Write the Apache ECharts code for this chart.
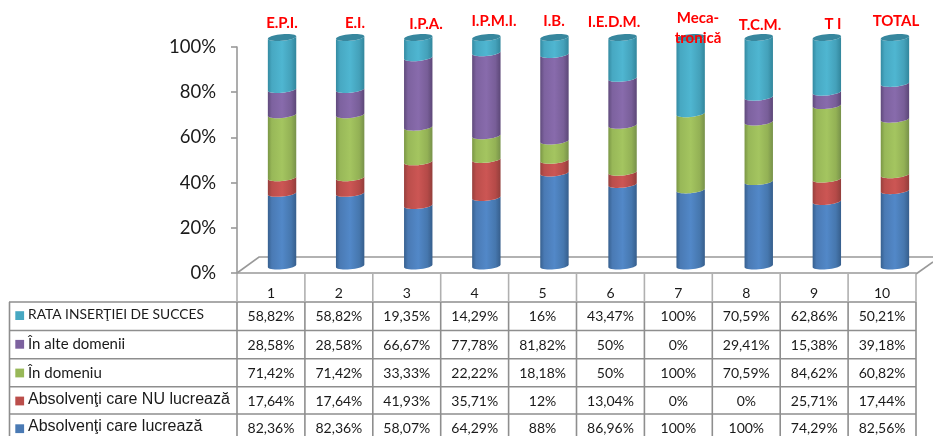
<!DOCTYPE html>
<html><head><meta charset="utf-8">
<style>html,body{margin:0;padding:0;background:#fff}#c{width:933px;height:436px}</style>
<script src="https://cdn.jsdelivr.net/npm/echarts@6/dist/echarts.min.js"></script>
</head><body><div id="c"></div>
<script>
const categories = ['1','2','3','4','5','6','7','8','9','10'];
const groups = ['E.P.I.','E.I.','I.P.A.','I.P.M.I.','I.B.','I.E.D.M.','Meca-','tronică','T.C.M.','T I','TOTAL'];
const seriesNames = ['Absolvenţi care lucrează','Absolvenţi care NU lucrează','În domeniu','În alte domenii','RATA INSERŢIEI DE SUCCES'];
const lucreaza = [82.36,82.36,58.07,64.29,88,86.96,100,100,74.29,82.56];
const nuLucreaza = [17.64,17.64,41.93,35.71,12,13.04,0,0,25.71,17.44];
const inDomeniu = [71.42,71.42,33.33,22.22,18.18,50,100,70.59,84.62,60.82];
const altele = [28.58,28.58,66.67,77.78,81.82,50,0,29.41,15.38,39.18];
const rata = [58.82,58.82,19.35,14.29,16,43.47,100,70.59,62.86,50.21];
const yTicks = [0,20,40,60,80,100];

const values = [lucreaza,nuLucreaza,inDomeniu,altele,rata];
const palette = [
  ['#37608f','#4a7ab4','#5288c8','#4677ae','#365e8c'],
  ['#96403d','#bb4e4b','#cc5654','#b54a48','#923e3b'],
  ['#7a9645','#98b858','#a4c560','#93b155','#77914a'],
  ['#5f4a7b','#7d629f','#886bac','#785e98','#5c4777'],
  ['#348aa1','#47a8c2','#4fb6d1','#44a1ba','#32869c']
];
const cum = categories.map((_,i)=>{
  const tot = values.reduce((s,a)=>s+a[i],0);
  let acc = 0;
  return values.map(a=>{const s=acc; acc+=a[i]/tot*100; return [i,s,acc];});
});

function arc(cx,cy,a,b,t,from,to,n){
  const pts=[];
  for(let k=0;k<=n;k++){
    const th=from+(to-from)*k/n;
    pts.push([cx+a*Math.cos(th), cy+b*Math.sin(th)-t*Math.cos(th)]);
  }
  return pts;
}
function cylinder(si){
  return function(params,api){
    const i=api.value(0);
    const p0=api.coord([i,api.value(1)]), p1=api.coord([i,api.value(2)]);
    if(api.value(2)-api.value(1)<1e-6) return {type:'group',children:[]};
    const a=14.2,b=3.3,t=1.3,cx=p0[0];
    const lower=arc(cx,p0[1],a,b,t,Math.PI,0,18);
    const upper=arc(cx,p1[1],a,b,t,0,Math.PI,18);
    const stops=palette[si];
    const fill={type:'linear',x:0,y:0,x2:1,y2:0,colorStops:[
      {offset:0,color:stops[0]},{offset:.14,color:stops[1]},{offset:.5,color:stops[2]},
      {offset:.82,color:stops[3]},{offset:1,color:stops[4]}]};
    const children=[{type:'polygon',shape:{points:lower.concat(upper)},style:{fill:fill}}];
    if(si===4){
      children.push({type:'polygon',shape:{points:arc(cx,p1[1],a,b,t,0,Math.PI*2,36)},style:{fill:'#37879e'}});
    }
    return {type:'group',children:children};
  };
}

const LINE='#8e8e8e';
function vline(x,y1,y2,c,w,z){return {type:'line',z:z,shape:{x1:x,y1:y1,x2:x,y2:y2},style:{stroke:c,lineWidth:w}};}
function hline(x1,x2,y,c,w,z){return {type:'line',z:z,shape:{x1:x1,y1:y,x2:x2,y2:y},style:{stroke:c,lineWidth:w}};}
const els=[];
// floor
els.push({type:'polyline',z:0,shape:{points:[[237,273],[259,257],[933,257]]},style:{stroke:'#999',lineWidth:1.6,fill:null}});
els.push({type:'line',z:0,shape:{x1:916,y1:274,x2:933,y2:262},style:{stroke:'#999',lineWidth:1.6}});
// table
const colX=i=>237+i*67.9;
const rowLines=[302,330.5,358.7,386.7,414];
rowLines.forEach(y=>els.push(hline(9,916,y,LINE,1.6,5)));
for(let i=0;i<=10;i++){
  els.push(vline(colX(i),274,302,'#b0b0b0',1.6,5));
  els.push(vline(colX(i),302,436,LINE,1.6,5));
}
els.push(vline(9.5,302,436,LINE,1.6,5));
const rowsTop=[4,3,2,1,0];
const keyY=[315.6,344.3,373,401,428.7];
const nameY=[315,343.7,373,400,426.7];
const cellY=[316.7,345,373.7,401,428];
const nameFont=['13.8px Lato','15px Lato','15px Lato','16px "Liberation Sans"','16px "Liberation Sans"'];
rowsTop.forEach((si,r)=>{
  els.push({type:'rect',z:6,shape:{x:15.3,y:keyY[r]-4.4,width:8.8,height:8.8},style:{fill:palette[si][1]}});
  els.push({type:'text',z:6,style:{x:28,y:nameY[r],text:seriesNames[si],font:nameFont[r],fill:'#1a1a1a',textAlign:'left',textVerticalAlign:'middle'}});
  categories.forEach((_,i)=>{
    els.push({type:'text',z:6,style:{x:colX(i)+34,y:cellY[r],text:String(values[si][i]).replace('.',',')+'%',font:'14px Lato',fill:'#1a1a1a',textAlign:'center',textVerticalAlign:'middle'}});
  });
});
// group captions above the columns
const capX=[282,355,426,494,554,614,698,698,760,833,896];
const capY=[23,23,24,21,21,22,18,38,25,24,21];
groups.forEach((g,i)=>{
  els.push({type:'text',z:20,style:{x:capX[i],y:capY[i],text:g,font:'bold 15px Lato',fill:'#ff0000',textAlign:'center',textVerticalAlign:'middle'}});
});

const chart=echarts.init(document.getElementById('c'),null,{renderer:'canvas'});
chart.setOption({
  animation:false,
  backgroundColor:'#fff',
  grid:[
    {left:237,top:47,width:679,height:226},
    {left:248,top:37.5,width:681,height:228.5}
  ],
  xAxis:[
    {type:'category',gridIndex:0,data:categories,axisTick:{show:false},
     axisLine:{lineStyle:{color:'#999',width:1.6}},
     axisLabel:{color:'#1a1a1a',fontFamily:'Lato',fontSize:14,margin:13}},
    {type:'category',gridIndex:1,data:categories,show:false}
  ],
  yAxis:[
    {type:'value',gridIndex:0,min:0,max:100,interval:20,splitLine:{show:false},
     axisLine:{show:true,lineStyle:{color:'#999',width:1.6}},
     axisTick:{show:true,length:6,lineStyle:{color:'#999',width:1.6}},
     axisLabel:{formatter:v=>yTicks.includes(v)?v+'%':'',color:'#1a1a1a',fontFamily:'Lato',fontSize:18.5,margin:21,padding:[6,0,0,0]}},
    {type:'value',gridIndex:1,min:0,max:100,show:false,splitLine:{show:false}}
  ],
  series:seriesNames.map((n,si)=>({
    name:n,type:'custom',xAxisIndex:1,yAxisIndex:1,z:2,clip:false,
    renderItem:cylinder(si),
    encode:{x:0,y:[1,2]},
    data:cum.map(c=>c[si])
  })),
  graphic:{elements:els}
});
</script></body></html>
